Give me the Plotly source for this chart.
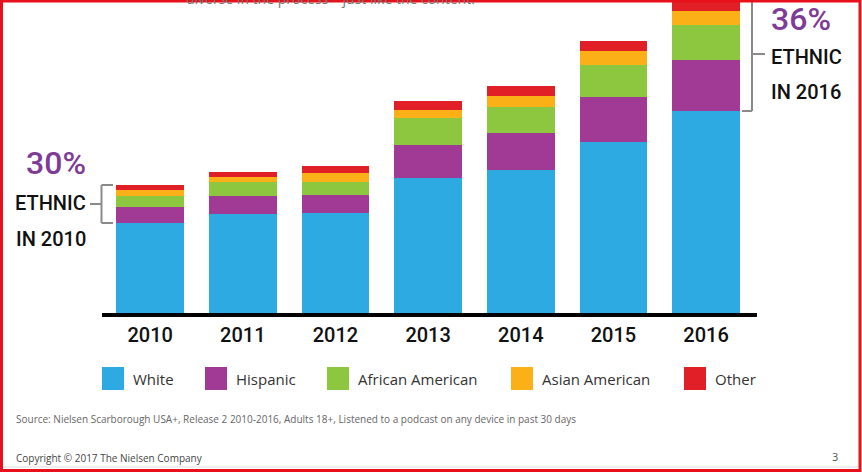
import plotly.graph_objects as go

# ==========================================================
# Data (podcast listeners by ethnicity, relative bar heights)
# ==========================================================

years = ["2010", "2011", "2012", "2013", "2014", "2015", "2016"]
groups = ["White", "Hispanic", "African American", "Asian American", "Other"]
colors = ["#2DAAE1", "#A03A94", "#8DC63F", "#FBB017", "#E01F26"]

white = [90, 99, 100, 135, 143, 171, 202]
hispanic = [16, 18, 18, 33, 37, 45, 51]
african_american = [11, 14, 13, 27, 26, 32, 35]
asian_american = [6, 5, 9, 8, 11, 14, 14]
other = [5, 5, 7, 9, 10, 10, 14]

series = [white, hispanic, african_american, asian_american, other]

ethnic_share_first = "30%"
ethnic_share_last = "36%"

source_note = ("Source: Nielsen Scarborough USA+, Release 2 2010-2016, Adults 18+, "
               "Listened to a podcast on any device in past 30 days")
copyright_note = "Copyright \u00a9 2017 The Nielsen Company"
page_number = "3"
top_text = "diverse in the process \u2013 just like the content."

# ==========================================================
# Page geometry (pixels)
# ==========================================================

W, H = 862, 472
ML, MR, MT, MB = 102, 105, 0, 159
PW = W - ML - MR
PH = H - MT - MB
Y_TOP = 313

NARROW = "Roboto, Liberation Sans, sans-serif"
BODY = "Open Sans, Noto Sans, sans-serif"


def px_x(x):
    return (x - ML) / PW


def px_y(y):
    return (H - MB - y) / PH


def val_y(v):
    return v / Y_TOP


fig = go.Figure()

for name, vals, col in zip(groups, series, colors):
    fig.add_trace(go.Bar(
        x=years,
        y=vals,
        name=name,
        marker=dict(color=col, line=dict(width=0)),
        showlegend=False,
        hoverinfo="skip",
    ))

totals = [sum(v) for v in zip(*series)]

shapes = []
annotations = []

# ---- left bracket (first year) ----
gray = "#8A8A8A"
lb_top, lb_bot = val_y(totals[0]), val_y(white[0])
lbx = px_x(101.5)
shapes += [
    dict(type="line", xref="paper", yref="paper", x0=lbx, x1=lbx, y0=lb_bot, y1=lb_top,
         line=dict(color=gray, width=2)),
    dict(type="line", xref="paper", yref="paper", x0=lbx, x1=px_x(113), y0=lb_top, y1=lb_top,
         line=dict(color=gray, width=2)),
    dict(type="line", xref="paper", yref="paper", x0=lbx, x1=px_x(113), y0=lb_bot, y1=lb_bot,
         line=dict(color=gray, width=2)),
    dict(type="line", xref="paper", yref="paper", x0=px_x(90), x1=lbx,
         y0=(lb_top + lb_bot) / 2, y1=(lb_top + lb_bot) / 2,
         line=dict(color=gray, width=2)),
]

# ---- right bracket (last year) ----
rb_top, rb_bot = val_y(totals[-1]), val_y(white[-1])
rbx = px_x(752)
shapes += [
    dict(type="line", xref="paper", yref="paper", x0=rbx, x1=rbx, y0=rb_bot, y1=rb_top,
         line=dict(color=gray, width=2)),
    dict(type="line", xref="paper", yref="paper", x0=px_x(742), x1=rbx, y0=rb_bot, y1=rb_bot,
         line=dict(color=gray, width=2)),
    dict(type="line", xref="paper", yref="paper", x0=rbx, x1=px_x(765),
         y0=(rb_top + rb_bot) / 2, y1=(rb_top + rb_bot) / 2,
         line=dict(color=gray, width=2)),
]

# ---- callout texts ----
purple = "#7E3C96"
left_txt = [(ethnic_share_first, 163, 32, purple), ("ETHNIC", 203, 20, "#111111"),
            ("IN " + years[0], 239, 20, "#111111")]
for t, yc, sz, col in left_txt:
    annotations.append(dict(text=t, xref="paper", yref="paper", x=px_x(88), y=px_y(yc),
                            xanchor="right", yanchor="middle", showarrow=False,
                            font=dict(family=NARROW, size=sz, color=col, weight=500)))

right_txt = [(ethnic_share_last, 19, 32, purple), ("ETHNIC", 57, 20, "#111111"),
             ("IN " + years[-1], 92, 20, "#111111")]
for t, yc, sz, col in right_txt:
    annotations.append(dict(text=t, xref="paper", yref="paper", x=px_x(769), y=px_y(yc),
                            xanchor="left", yanchor="middle", showarrow=False,
                            font=dict(family=NARROW, size=sz, color=col, weight=500)))

# ---- legend drawn by hand (big square swatches) ----
legend_x = [102, 205, 327, 511, 684]
for name, col, lx in zip(groups, colors, legend_x):
    shapes.append(dict(type="rect", xref="paper", yref="paper",
                       x0=px_x(lx), x1=px_x(lx + 22), y0=px_y(367), y1=px_y(390),
                       fillcolor=col, line=dict(width=0)))
    annotations.append(dict(text=name, xref="paper", yref="paper",
                            x=px_x(lx + 29), y=px_y(379), xanchor="left", yanchor="middle",
                            showarrow=False, font=dict(family=BODY, size=15, color="#333333")))

# ---- footer / header texts ----
annotations += [
    dict(text=source_note, xref="paper", yref="paper", x=px_x(14), y=px_y(419),
         xanchor="left", yanchor="middle", showarrow=False,
         font=dict(family=BODY, size=10, color="#666666")),
    dict(text=copyright_note, xref="paper", yref="paper", x=px_x(14), y=px_y(458),
         xanchor="left", yanchor="middle", showarrow=False,
         font=dict(family=BODY, size=10, color="#444444")),
    dict(text=page_number, xref="paper", yref="paper", x=px_x(840), y=px_y(456),
         xanchor="right", yanchor="middle", showarrow=False,
         font=dict(family=BODY, size=11, color="#555555")),
    dict(text=top_text, xref="paper", yref="paper", x=px_x(184), y=px_y(10),
         xanchor="left", yanchor="bottom", showarrow=False,
         font=dict(family=BODY, size=14, color="#777777")),
]

# faint rule under the footer
shapes.append(dict(type="line", xref="paper", yref="paper",
                   x0=px_x(3), x1=px_x(858), y0=px_y(467), y1=px_y(467),
                   line=dict(color="#DDDDDD", width=1)))

# ---- red frame round the screenshot ----
shapes.append(dict(type="rect", xref="paper", yref="paper",
                   x0=px_x(1.5), x1=px_x(W - 2), y0=px_y(1), y1=px_y(H - 1.5),
                   line=dict(color="#E8101A", width=3), layer="above"))

fig.update_layout(
    width=W,
    height=H,
    margin=dict(l=ML, r=MR, t=MT, b=MB),
    paper_bgcolor="white",
    plot_bgcolor="white",
    barmode="stack",
    bargap=0.27,
    xaxis=dict(
        type="category",
        range=[-0.52, 6.55],
        showline=True,
        linecolor="black",
        linewidth=4,
        ticks="",
        showgrid=False,
        zeroline=False,
        tickfont=dict(family=NARROW, size=20, color="#111111", weight=500),
        ticklabelstandoff=1,
    ),
    yaxis=dict(range=[0, Y_TOP], visible=False),
    shapes=shapes,
    annotations=annotations,
)

# page body has a default 8px margin; drop it so the figure fills the window
fig.write_html("out.html", config={"displayModeBar": False},
               post_script="document.body.style.margin='0';")
